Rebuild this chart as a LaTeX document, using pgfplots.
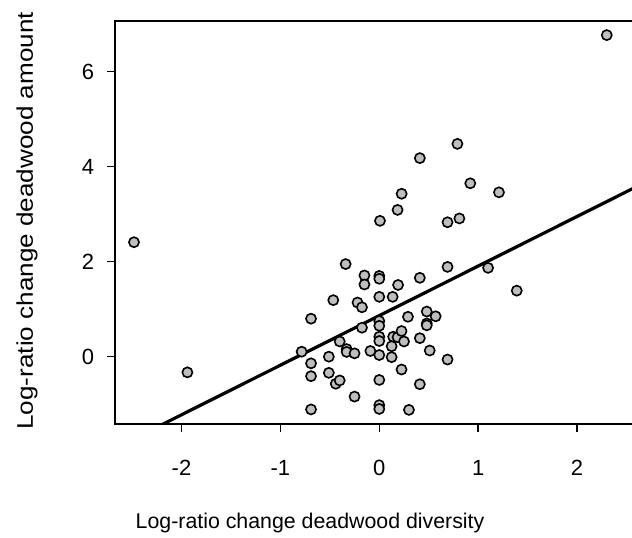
\documentclass[border=0pt]{standalone}
\usepackage{pgfplots}
\pgfplotsset{compat=1.18}
\usepackage{fontspec}
\setmainfont{Liberation Sans}
\definecolor{ptfill}{HTML}{BEBEBE}
\newcommand{\rfont}{\fontsize{16}{19}\selectfont}
\newcommand{\tfont}{\fontsize{16.5}{19}\selectfont}
\newcommand{\yfont}{\fontsize{17}{20}\selectfont}
\begin{document}
\begin{tikzpicture}
\useasboundingbox (-86.25pt,-85.5pt) rectangle (387.75pt,318pt);
\clip (-86.25pt,-85.5pt) rectangle (387.75pt,318pt);
\begin{axis}[
  scale only axis,
  width=398.5pt, height=302.25pt,
  at={(0,0)}, anchor=south west,
  xmin=-2.672, xmax=2.7,
  ymin=-1.417, ymax=7.067,
  axis line style={line width=1.1pt},
  tick style={line width=1.1pt, black},
  tick align=outside,
  major tick length=6pt,
  xtick pos=bottom, ytick pos=left,
  xtick={-2,-1,0,1,2},
  xticklabels={-2,-1,0,1,2},
  ytick={0,2,4,6},
  yticklabels={0,2,4,6},
  xticklabel style={font=\tfont, anchor=center, yshift=-27pt},
  yticklabel style={font=\tfont, anchor=center, xshift=-14.25pt},
  xlabel={Log-ratio change deadwood diversity},
  ylabel={Log-ratio change deadwood amount},
  xlabel style={font=\rfont, at={(axis cs:-0.70,-3.501)}, anchor=center},
  ylabel style={font=\yfont, at={(axis cs:-3.562,2.86)}, anchor=center, xscale=1.15},
]
\addplot[only marks, mark=*, mark size=3.8pt, mark options={fill=ptfill, draw=black, line width=1.2pt}] coordinates {
(-2.48,2.41) (-1.94,-0.33) (-0.69,0.80) (-0.785,0.105) (-0.69,-0.14) (-0.69,-0.41) (-0.69,-1.11)
(-0.51,0.0) (-0.51,-0.34) (-0.44,-0.57) (-0.40,-0.50) (-0.40,0.32) (-0.33,0.16) (-0.33,0.10)
(-0.25,0.07) (-0.25,-0.84) (-0.465,1.19) (-0.34,1.95) (-0.22,1.14) (-0.175,1.04) (-0.15,1.71)
(-0.15,1.52) (-0.175,0.61) (-0.09,0.12) (0.007,2.86) (0,1.70) (0,1.64) (0,1.26) (0,0.75)
(0,0.65) (0,0.42) (0,0.33) (0,0.035) (0,-0.49) (0,-1.02) (0,-1.10) (0.135,1.26) (0.185,3.09)
(0.19,1.51) (0.14,0.42) (0.185,0.41) (0.125,0.22) (0.125,-0.01) (0.225,0.54) (0.25,0.32)
(0.225,-0.27) (0.29,0.84) (0.30,-1.12) (0.41,1.66) (0.41,0.39) (0.41,-0.58) (0.48,0.95)
(0.48,0.70) (0.48,0.66) (0.51,0.13) (0.57,0.85) (0.69,2.83) (0.81,2.91) (0.69,1.89)
(0.69,-0.06) (1.10,1.87) (1.39,1.39)
(2.30,6.77) (0.79,4.48) (0.41,4.18) (0.92,3.65) (0.226,3.43) (1.21,3.46)
};
\addplot[line width=2.4pt, black] coordinates {(-2.6,-1.850) (2.8,3.787)};
\end{axis}
\end{tikzpicture}
\end{document}
